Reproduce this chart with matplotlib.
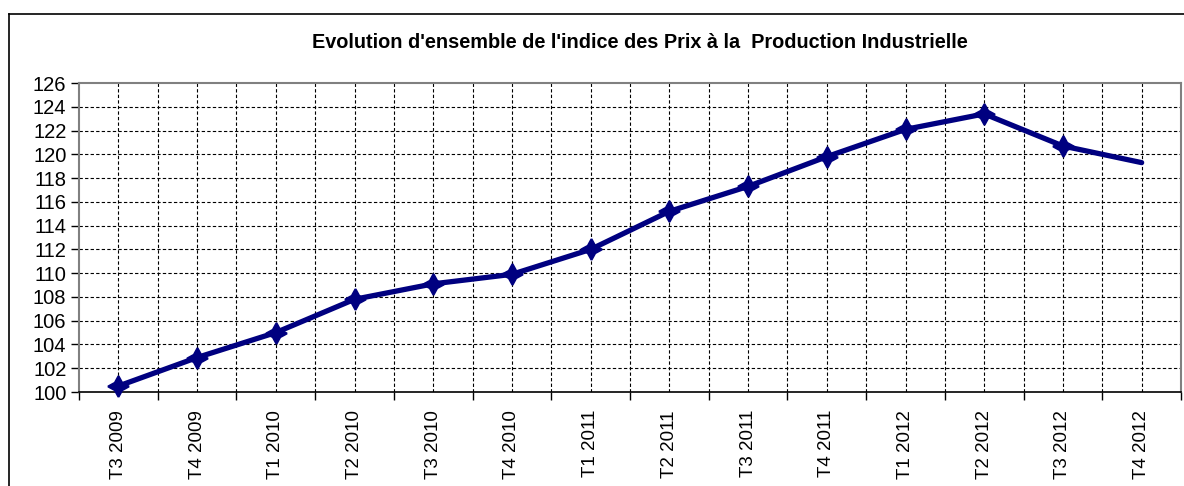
import matplotlib
matplotlib.use("Agg")
import matplotlib.pyplot as plt
from matplotlib.lines import Line2D
import numpy as np

categories = ["T3 2009", "T4 2009", "T1 2010", "T2 2010", "T3 2010", "T4 2010",
              "T1 2011", "T2 2011", "T3 2011", "T4 2011", "T1 2012", "T2 2012",
              "T3 2012", "T4 2012"]
values = [100.5, 102.9, 105.0, 107.8, 109.1, 109.9, 112.0, 115.2, 117.3,
          119.8, 122.1, 123.4, 120.7, 119.3]
y_ticks = list(range(100, 127, 2))
title = "Evolution d'ensemble de l'indice des Prix à la  Production Industrielle"

plt.rcParams['font.family'] = ['Liberation Sans', 'DejaVu Sans']

W, H = 1184, 486
fig = plt.figure(figsize=(W / 100, H / 100), dpi=100)
ax = fig.add_axes([79 / W, 1 - 392 / H, (1181 - 79) / W, (392 - 83) / H])

x = np.arange(len(categories))
ax.set_xlim(-0.5, len(categories) - 0.5)
ax.set_ylim(100, 126)

# grid lines
dash = (0, (3, 2))
for yv in y_ticks[1:-1]:
    ax.axhline(yv, color='black', lw=0.8, ls=dash, zorder=1)
for xv in x:
    ax.axvline(xv, color='black', lw=0.8, ls=dash, zorder=1)
for xv in x[:-1] + 0.5:
    ax.axvline(xv, color='black', lw=0.8, ls=dash, zorder=1)

ax.plot(x, values, color='#000080', lw=3.8, marker=(4, 1, 0), ms=15,
        markevery=list(range(len(values) - 1)),
        markeredgecolor='#000080', markerfacecolor='#000080', markeredgewidth=1.5,
        zorder=3, solid_joinstyle='round', solid_capstyle='round', clip_on=False)

ax.set_yticks(y_ticks)
ax.set_yticklabels([str(v) for v in y_ticks], fontsize=14.5)
ax.tick_params(axis='y', direction='out', length=6, width=1, color='black', pad=3)

ax.set_xticks(x)
ax.set_xticklabels(categories, rotation=90, fontsize=13.5)
ax.tick_params(axis='x', which='major', length=0, pad=13)
ax.set_xticks(np.arange(-0.5, len(categories) - 0.4, 1.0), minor=True)
ax.tick_params(axis='x', which='minor', direction='out', length=6, width=1, color='black')

for s in ['left', 'top', 'right']:
    ax.spines[s].set_color('#808080')
    ax.spines[s].set_linewidth(1.5)
ax.spines['bottom'].set_color('black')
ax.spines['bottom'].set_linewidth(1.2)

fig.text(640 / W, 1 - 42 / H, title, ha='center', va='center',
         fontsize=14.3, fontweight='bold')

# outer chart border (left and top)
fig.add_artist(Line2D([9 / W, 9 / W], [0, 1 - 14 / H], color='black', lw=1.2,
                      transform=fig.transFigure))
fig.add_artist(Line2D([9 / W, 1], [1 - 14 / H, 1 - 14 / H], color='black', lw=1.2,
                      transform=fig.transFigure))

fig.savefig("out.png", dpi=100)
